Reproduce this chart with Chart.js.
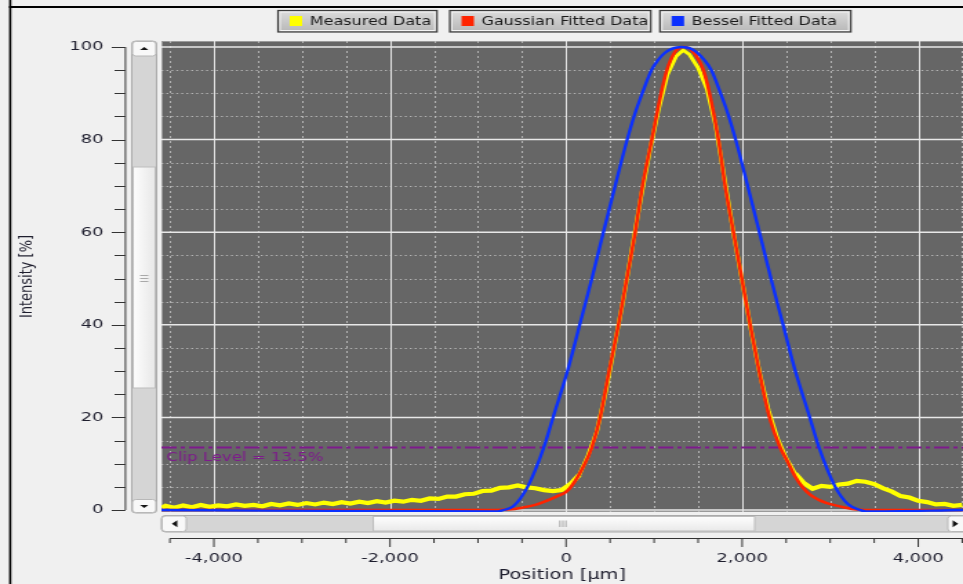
<!DOCTYPE html>
<html>
<head>
<meta charset="utf-8">
<script src="https://cdn.jsdelivr.net/npm/chart.js@4.4.1/dist/chart.umd.min.js"></script>
<style>
  html, body { margin: 0; padding: 0; background: #f0f0f0; overflow: hidden; }
  /* the profile view is drawn narrow and widened to the window */
  #wrap { width: 698px; height: 584px; transform: scaleX(1.3797); transform-origin: 0 0; }
</style>
</head>
<body>
<div id="wrap"><canvas id="profile" width="698" height="584"></canvas></div>
<script>
// Measured beam profile (position in µm, intensity in %)
const measuredX = [-4590, -4550, -4450, -4350, -4250, -4150, -4050, -3950, -3850, -3750, -3650, -3550, -3450,
  -3350, -3250, -3150, -3050, -2950, -2850, -2750, -2650, -2550, -2450, -2350, -2250, -2150, -2050, -1950,
  -1850, -1750, -1650, -1550, -1450, -1350, -1250, -1150, -1050, -950, -850, -750, -650, -550, -450, -350,
  -250, -150, -50, 50, 150, 250, 350, 450, 550, 650, 750, 850, 950, 1050, 1150, 1250, 1330, 1400, 1500,
  1600, 1700, 1800, 1900, 2000, 2100, 2200, 2300, 2400, 2500, 2600, 2700, 2800, 2900, 3000, 3100, 3200,
  3300, 3400, 3500, 3600, 3700, 3800, 3900, 4000, 4100, 4200, 4300, 4400, 4500];
const measuredY = [0.5, 0.9, 0.5, 1.0, 0.6, 1.1, 0.7, 1.0, 0.8, 1.2, 0.9, 1.1, 0.8,
  1.3, 1.0, 1.4, 1.1, 1.5, 1.2, 1.6, 1.3, 1.7, 1.4, 1.8, 1.5, 1.9, 1.6, 2.0,
  1.8, 2.2, 2.0, 2.5, 2.4, 2.9, 2.9, 3.4, 3.5, 4.1, 4.2, 4.8, 4.9, 5.3, 4.9, 4.7,
  4.3, 4.1, 4.3, 5.6, 7.6, 11.8, 17, 25.5, 35.5, 45.5, 56.5, 67.5, 77.5, 86.5, 94, 98, 99.3, 98.4, 95.5,
  91, 83, 71.5, 60, 49.5, 39, 29.5, 21.5, 15.5, 11.2, 7.9, 5.8, 4.6, 5.2, 5.0, 5.5, 5.7,
  6.3, 6.1, 5.6, 4.7, 4.0, 3.0, 2.7, 2.0, 1.7, 1.2, 1.3, 0.9, 1.1];

// Gaussian fit
const gaussX = [-4596, -800, -650, -500, -350, -220, -100, 0, 100, 200, 292, 387, 489, 595, 690, 785, 868,
  974, 1080, 1145, 1240, 1340, 1440, 1560, 1629, 1731, 1807, 1901, 1996, 2091, 2193, 2311, 2432, 2507,
  2600, 2692, 2771, 2870, 2961, 3060, 3150, 3250, 3350, 3450, 4509];
const gaussY = [0, 0, 0.1, 0.5, 1.1, 2.0, 3.0, 3.9, 6.2, 9.5, 13.5, 20, 30, 40, 50, 60, 70,
  80, 90, 95, 99, 100, 99, 95, 90, 80, 70, 60, 50, 40, 30, 20, 13.5, 10.8,
  7.3, 4.8, 3.3, 2.2, 1.5, 1.0, 0.6, 0.25, 0.05, 0, 0];

// Bessel fit
const besselX = [-4596, -780, -712, -600, -437, -253, -148, 16, 155, 293, 424, 557, 694, 780, 865, 970,
  1050, 1120, 1200, 1260, 1310, 1370, 1430, 1500, 1570, 1650, 1755, 1840, 1926, 2063, 2196, 2327, 2465,
  2604, 2768, 2873, 3057, 3200, 3340, 3400, 4509];
const besselY = [0, -0.3, 0, 0.8, 5, 13.5, 20, 30, 40, 50, 60, 70, 80, 85.5, 90, 95,
  97.3, 98.7, 99.6, 99.9, 100, 99.9, 99.5, 98.6, 97.2, 95, 90, 85.5, 80, 70, 60, 50, 40,
  30, 20, 13.5, 5, 1.3, 0, -0.3, 0];

const clipLevel = 13.5;

const xTicks = [-4000, -2000, 0, 2000, 4000];
const xTickLabels = ['-4,000', '-2,000', '0', '2,000', '4,000'];
const yTicks = [0, 20, 40, 60, 80, 100];
const yTickLabels = ['0', '20', '40', '60', '80', '100'];

const FONT = 'DejaVu Sans';

function toPoints(xs, ys) {
  return xs.map((x, i) => ({ x: x, y: ys[i] }));
}

function roundRect(ctx, x, y, w, h, r) {
  ctx.beginPath();
  ctx.moveTo(x + r, y);
  ctx.lineTo(x + w - r, y);
  ctx.quadraticCurveTo(x + w, y, x + w, y + r);
  ctx.lineTo(x + w, y + h - r);
  ctx.quadraticCurveTo(x + w, y + h, x + w - r, y + h);
  ctx.lineTo(x + r, y + h);
  ctx.quadraticCurveTo(x, y + h, x, y + h - r);
  ctx.lineTo(x, y + r);
  ctx.quadraticCurveTo(x, y, x + r, y);
  ctx.closePath();
}

function arrow(ctx, cx, cy, dir) {
  ctx.fillStyle = '#111';
  ctx.beginPath();
  if (dir === 'up') { ctx.moveTo(cx - 3, cy + 1.5); ctx.lineTo(cx + 3, cy + 1.5); ctx.lineTo(cx, cy - 1.5); }
  if (dir === 'down') { ctx.moveTo(cx - 3, cy - 1.5); ctx.lineTo(cx + 3, cy - 1.5); ctx.lineTo(cx, cy + 1.5); }
  if (dir === 'left') { ctx.moveTo(cx + 2, cy - 3.5); ctx.lineTo(cx + 2, cy + 3.5); ctx.lineTo(cx - 2, cy); }
  if (dir === 'right') { ctx.moveTo(cx - 2, cy - 3.5); ctx.lineTo(cx - 2, cy + 3.5); ctx.lineTo(cx + 2, cy); }
  ctx.closePath();
  ctx.fill();
}

// scales keep a fixed box, labels sit outside the scroll bars
function fixBox(s, w, h) {
  if (w !== null) s.width = w;
  if (h !== null) s.height = h;
  s.paddingLeft = 0;
  s.paddingRight = 0;
  s.paddingTop = 0;
  s.paddingBottom = 0;
}

// background, plot panel, grid and clip level line
const frameUnder = {
  id: 'frameUnder',
  beforeDraw(chart) {
    const ctx = chart.ctx;
    const { left, top, right, bottom } = chart.chartArea;
    const xs = chart.scales.x, ys = chart.scales.y;
    ctx.save();
    ctx.fillStyle = '#f0f0f0';
    ctx.fillRect(0, 0, chart.width, chart.height);

    // window edges
    ctx.fillStyle = '#000';
    ctx.fillRect(6.6, 0, 1.6, chart.height);
    ctx.fillRect(6.6, 6, chart.width, 2);

    ctx.fillStyle = '#666666';
    ctx.fillRect(left, top, right - left, bottom - top);
    ctx.strokeStyle = '#9a9a9a';
    ctx.lineWidth = 1;
    ctx.strokeRect(left + 0.5, top + 0.5, right - left, bottom - top - 1);

    // minor grid, dotted
    ctx.strokeStyle = 'rgba(200,200,200,0.8)';
    ctx.lineWidth = 1;
    ctx.setLineDash([2, 3]);
    for (let v = -4500; v <= 4500; v += 500) {
      if (v % 2000 === 0) continue;
      const px = Math.round(xs.getPixelForValue(v)) + 0.5;
      ctx.beginPath(); ctx.moveTo(px, top); ctx.lineTo(px, bottom); ctx.stroke();
    }
    ctx.setLineDash([1.4, 2.2]);
    for (let v = 5; v < 100; v += 5) {
      if (v % 20 === 0) continue;
      const py = Math.round(ys.getPixelForValue(v)) + 0.5;
      ctx.beginPath(); ctx.moveTo(left, py); ctx.lineTo(right, py); ctx.stroke();
    }
    ctx.setLineDash([]);

    // major grid
    ctx.strokeStyle = '#e8e8e8';
    ctx.lineWidth = 1;
    xTicks.forEach(v => {
      const px = Math.round(xs.getPixelForValue(v)) + 0.5;
      ctx.beginPath(); ctx.moveTo(px, top); ctx.lineTo(px, bottom); ctx.stroke();
    });
    ctx.lineWidth = 1.5;
    yTicks.forEach(v => {
      const py = ys.getPixelForValue(v);
      ctx.beginPath(); ctx.moveTo(left, py); ctx.lineTo(right, py); ctx.stroke();
    });

    // clip level
    const cy = ys.getPixelForValue(clipLevel);
    ctx.strokeStyle = '#7e1a8c';
    ctx.lineWidth = 2;
    ctx.setLineDash([11, 3, 3, 3]);
    ctx.beginPath(); ctx.moveTo(left, cy); ctx.lineTo(right, cy); ctx.stroke();
    ctx.setLineDash([]);
    ctx.fillStyle = '#7e1a8c';
    ctx.font = '12px "' + FONT + '"';
    ctx.textBaseline = 'middle';
    ctx.textAlign = 'left';
    ctx.fillText('Clip Level = ' + clipLevel + '%', left + 3.5, cy + 10.5);
    ctx.restore();
  }
};

// axis lines with tick marks, scroll bars and legend buttons
const frameOver = {
  id: 'frameOver',
  afterDraw(chart) {
    const ctx = chart.ctx;
    const { left, top, right, bottom } = chart.chartArea;
    const xs = chart.scales.x, ys = chart.scales.y;
    ctx.save();

    // y axis
    ctx.strokeStyle = '#333';
    ctx.lineWidth = 1;
    const ax = 90.9;
    ctx.beginPath(); ctx.moveTo(ax, ys.getPixelForValue(100)); ctx.lineTo(ax, ys.getPixelForValue(0)); ctx.stroke();
    for (let v = 0; v <= 100; v += 5) {
      const py = Math.round(ys.getPixelForValue(v)) + 0.5;
      ctx.beginPath();
      ctx.moveTo(v % 20 === 0 ? 81 : 83, py);
      ctx.lineTo(ax, py);
      ctx.stroke();
    }

    // x axis
    const ay = 538.5;
    ctx.beginPath(); ctx.moveTo(xs.getPixelForValue(-4500), ay); ctx.lineTo(right, ay); ctx.stroke();
    for (let v = -4500; v <= 4500; v += 500) {
      const px = xs.getPixelForValue(v);
      ctx.beginPath();
      ctx.moveTo(px, ay);
      ctx.lineTo(px, v % 2000 === 0 ? 547 : 543);
      ctx.stroke();
    }

    // vertical scroll bar
    const vx = 95.5, vw = 18;
    roundRect(ctx, vx, top, vw, bottom + 1 - top, 3);
    ctx.fillStyle = '#d5d5d5'; ctx.fill();
    ctx.strokeStyle = '#aaaaaa'; ctx.stroke();
    roundRect(ctx, vx + 0.5, top + 0.5, vw - 1, 14.5, 2.5);
    ctx.fillStyle = '#f8f8f8'; ctx.fill(); ctx.strokeStyle = '#b8b8b8'; ctx.stroke();
    arrow(ctx, vx + vw / 2, top + 7.5, 'up');
    let g = ctx.createLinearGradient(vx, 0, vx + vw, 0);
    g.addColorStop(0, '#ffffff'); g.addColorStop(1, '#e6e6e6');
    ctx.fillStyle = g;
    ctx.fillRect(vx + 1, 167, vw - 2, 221);
    ctx.strokeStyle = '#bdbdbd';
    ctx.strokeRect(vx + 1, 167, vw - 2, 221);
    ctx.strokeStyle = '#a9a9a9';
    [275.5, 278.5, 281.5].forEach(y => { ctx.beginPath(); ctx.moveTo(vx + 6, y); ctx.lineTo(vx + 12, y); ctx.stroke(); });
    roundRect(ctx, vx + 0.5, 499.5, vw - 1, bottom + 0.5 - 499.5, 2.5);
    ctx.fillStyle = '#f8f8f8'; ctx.fill(); ctx.strokeStyle = '#b8b8b8'; ctx.stroke();
    arrow(ctx, vx + vw / 2, 506.5, 'down');

    // horizontal scroll bar
    const hy = 515.5, hh = 16.5;
    roundRect(ctx, left, hy, right - left + 3, hh, 3);
    ctx.fillStyle = '#d5d5d5'; ctx.fill();
    ctx.strokeStyle = '#aaaaaa'; ctx.stroke();
    roundRect(ctx, left + 0.5, hy + 0.5, 17.5, hh - 1, 2.5);
    ctx.fillStyle = '#f8f8f8'; ctx.fill(); ctx.strokeStyle = '#b8b8b8'; ctx.stroke();
    arrow(ctx, left + 9.5, hy + hh / 2, 'left');
    g = ctx.createLinearGradient(0, hy, 0, hy + hh);
    g.addColorStop(0, '#ffffff'); g.addColorStop(1, '#e8e8e8');
    ctx.fillStyle = g;
    ctx.fillRect(270.5, hy + 1, 276.5, hh - 2);
    ctx.strokeStyle = '#bdbdbd';
    ctx.strokeRect(270.5, hy + 1, 276.5, hh - 2);
    ctx.strokeStyle = '#a9a9a9';
    [405.8, 408, 410.2].forEach(x => { ctx.beginPath(); ctx.moveTo(x, hy + 5); ctx.lineTo(x, hy + 11.5); ctx.stroke(); });
    roundRect(ctx, 687, hy + 0.5, 14, hh - 1, 2.5);
    ctx.fillStyle = '#f8f8f8'; ctx.fill(); ctx.strokeStyle = '#b8b8b8'; ctx.stroke();
    arrow(ctx, 692.5, hy + hh / 2, 'right');

    // legend buttons
    const btnLeft = [201.5, 326, 478.3];
    const btnRight = [316.7, 471.7, 616.7];
    ctx.font = '11.6px "' + FONT + '"';
    ctx.textBaseline = 'middle';
    ctx.textAlign = 'left';
    chart.data.datasets.forEach((ds, i) => {
      const bx = btnLeft[i], bw = btnRight[i] - btnLeft[i], by = 10.5, bh = 21.5;
      const bg = ctx.createLinearGradient(0, by, 0, by + bh);
      bg.addColorStop(0, '#dcdcdc'); bg.addColorStop(1, '#b7b7b7');
      ctx.fillStyle = bg;
      ctx.fillRect(bx, by, bw, bh);
      ctx.strokeStyle = '#f4f4f4';
      ctx.strokeRect(bx + 1.5, by + 1.5, bw - 3, bh - 3);
      ctx.strokeStyle = '#3c3c3c';
      ctx.lineWidth = 1.2;
      ctx.strokeRect(bx, by, bw, bh);
      ctx.lineWidth = 1;
      ctx.fillStyle = ds.borderColor;
      ctx.fillRect(bx + 8.5, 16, 9, 10);
      ctx.fillStyle = '#1a1a1a';
      ctx.fillText(ds.label, bx + 23, 21.8);
    });
    ctx.restore();
  }
};

const chart = new Chart(document.getElementById('profile'), {
  type: 'line',
  data: {
    datasets: [
      {
        label: 'Measured Data',
        data: toPoints(measuredX, measuredY),
        borderColor: '#ffff00',
        backgroundColor: '#ffff00',
        borderWidth: 4,
        // the noisy baseline reads as a wide band, the peak hides behind the fit
        segment: {
          borderWidth: c => (c.p0.parsed.y < 8 && c.p1.parsed.y < 8 ? 4.2 : 3)
        },
        pointRadius: 0,
        tension: 0,
        order: 3
      },
      {
        label: 'Gaussian Fitted Data',
        data: toPoints(gaussX, gaussY),
        borderColor: '#ff2400',
        backgroundColor: '#ff2400',
        borderWidth: 2.6,
        pointRadius: 0,
        cubicInterpolationMode: 'monotone',
        order: 2
      },
      {
        label: 'Bessel Fitted Data',
        data: toPoints(besselX, besselY),
        borderColor: '#0b30ff',
        backgroundColor: '#0b30ff',
        borderWidth: 2.4,
        pointRadius: 0,
        cubicInterpolationMode: 'monotone',
        order: 1
      }
    ]
  },
  options: {
    responsive: false,
    animation: false,
    events: [],
    devicePixelRatio: 1,
    layout: { padding: { top: 41, left: 0, right: 0, bottom: 0 } },
    plugins: {
      legend: { display: false },
      tooltip: { enabled: false }
    },
    scales: {
      x: {
        type: 'linear',
        min: -4596,
        max: 4509,
        grid: { display: false },
        border: { display: false },
        afterBuildTicks: s => { s.ticks = xTicks.map(v => ({ value: v })); },
        afterFit: s => fixBox(s, null, 72),
        ticks: {
          padding: 31,
          maxRotation: 0,
          autoSkip: false,
          color: '#1e1e2e',
          font: { family: FONT, size: 13 },
          callback: (v, i) => xTickLabels[i]
        },
        title: {
          display: true,
          text: 'Position [µm]',
          color: '#1e1e2e',
          font: { family: FONT, size: 14 },
          padding: { top: -4, bottom: 0 }
        }
      },
      y: {
        type: 'linear',
        min: -0.43,
        max: 101.3,
        grid: { display: false },
        border: { display: false },
        afterBuildTicks: s => { s.ticks = yTicks.map(v => ({ value: v })); },
        afterFit: s => fixBox(s, 117, null),
        ticks: {
          padding: 34,
          autoSkip: false,
          color: '#1e1e2e',
          font: { family: FONT, size: 13 },
          callback: (v, i) => yTickLabels[i]
        },
        title: {
          display: true,
          text: 'Intensity [%]',
          color: '#1e1e2e',
          font: { family: FONT, size: 13 },
          padding: { top: 11.8, bottom: 0 }
        }
      }
    }
  },
  plugins: [frameUnder, frameOver]
});
</script>
</body>
</html>
